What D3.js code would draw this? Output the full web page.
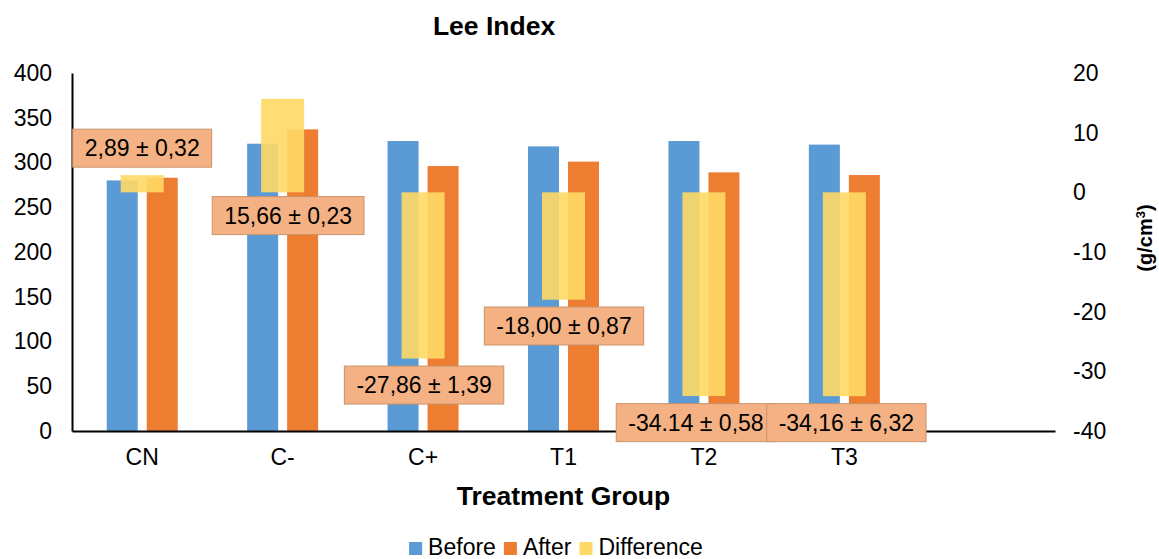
<!DOCTYPE html>
<html>
<head>
<meta charset="utf-8">
<script src="https://cdn.jsdelivr.net/npm/d3@7"></script>
<style>
  html, body { margin: 0; padding: 0; background: #fff; }
  svg { display: block; font-family: "Liberation Sans", Arial, sans-serif; }
</style>
</head>
<body>
<svg id="chart" width="1159" height="559"></svg>
<script>
// ---------- data ----------
const categories = ["CN", "C-", "C+", "T1", "T2", "T3"];
const beforeValues = [280, 321, 324, 318, 324, 320];
const afterValues = [283, 337, 296, 301, 289, 286];
const differenceValues = [2.89, 15.66, -27.86, -18.00, -34.14, -34.16];
const differenceLabels = ["2,89 ± 0,32", "15,66 ± 0,23", "-27,86 ± 1,39", "-18,00 ± 0,87", "-34.14 ± 0,58", "-34,16 ± 6,32"];
const leftTicks = [0, 50, 100, 150, 200, 250, 300, 350, 400];
const rightTicks = [-40, -30, -20, -10, 0, 10, 20];
const seriesNames = ["Before", "After", "Difference"];

// ---------- layout (not data) ----------
const plot = { left: 72, right: 1055, top: 73, bottom: 431 };
const colors = { Before: "#5B9BD5", After: "#ED7D31", Difference: "#FFD966" };
// label box placement: horizontal shift (px) and vertical anchor on right axis
const labelLayout = [
  { dx: 0, at: 7.4 },
  { dx: 5.5, at: -3.9 },
  { dx: 1, at: -32.3 },
  { dx: 0.5, at: -22.4 },
  { dx: -8, at: -38.6 },
  { dx: 2, at: -38.6 }
];

const svg = d3.select("#chart");

const x = d3.scaleBand()
  .domain(categories.concat([""]))
  .range([plot.left, plot.right])
  .padding(0);

const yL = d3.scaleLinear().domain([0, 400]).range([plot.bottom, plot.top]);
const yR = d3.scaleLinear().domain([-40, 20]).range([plot.bottom, plot.top]);

const bw = x.bandwidth();
const barW = 31, gap = 9, diffW = 43;
const cx = c => x(c) + bw / 2;

// Before bars
svg.append("g").selectAll("rect")
  .data(categories)
  .join("rect")
  .attr("x", c => cx(c) - gap / 2 - barW)
  .attr("width", barW)
  .attr("y", (c, i) => yL(beforeValues[i]))
  .attr("height", (c, i) => yL(0) - yL(beforeValues[i]))
  .attr("fill", colors.Before);

// After bars
svg.append("g").selectAll("rect")
  .data(categories)
  .join("rect")
  .attr("x", c => cx(c) + gap / 2)
  .attr("width", barW)
  .attr("y", (c, i) => yL(afterValues[i]))
  .attr("height", (c, i) => yL(0) - yL(afterValues[i]))
  .attr("fill", colors.After);

// Difference bars (right axis)
svg.append("g").selectAll("rect")
  .data(categories)
  .join("rect")
  .attr("x", c => cx(c) - diffW / 2)
  .attr("width", diffW)
  .attr("y", (c, i) => Math.min(yR(differenceValues[i]), yR(0)))
  .attr("height", (c, i) => Math.abs(yR(differenceValues[i]) - yR(0)))
  .attr("fill", colors.Difference)
  .attr("fill-opacity", 0.9);

// Axes
const axL = svg.append("g")
  .attr("transform", `translate(${plot.left},0)`)
  .call(d3.axisLeft(yL).tickValues(leftTicks).tickFormat(d => String(d)).tickSize(0).tickSizeOuter(0).tickPadding(20));
axL.select(".domain").attr("stroke", "#000").attr("stroke-width", 2);
axL.selectAll("text").attr("font-size", 23).attr("fill", "#000")
  .attr("font-family", "Liberation Sans, Arial, sans-serif");

const axR = svg.append("g")
  .attr("transform", `translate(${plot.right},0)`)
  .call(d3.axisRight(yR).tickValues(rightTicks).tickFormat(d => String(d)).tickSize(0).tickSizeOuter(0).tickPadding(18));
axR.select(".domain").remove();
axR.selectAll("text").attr("font-size", 23).attr("fill", "#000")
  .attr("font-family", "Liberation Sans, Arial, sans-serif");

const axB = svg.append("g")
  .attr("transform", `translate(0,${plot.bottom})`)
  .call(d3.axisBottom(x).tickSize(0).tickSizeOuter(0).tickPadding(18));
axB.select(".domain").attr("stroke", "#000").attr("stroke-width", 2);
axB.selectAll("text").attr("font-size", 23).attr("fill", "#000")
  .attr("font-family", "Liberation Sans, Arial, sans-serif");

// Data labels
const lg = svg.append("g").selectAll("g")
  .data(categories)
  .join("g")
  .attr("transform", (c, i) => `translate(${cx(c) + labelLayout[i].dx},${yR(labelLayout[i].at)})`);
lg.each(function (c, i) {
  const g = d3.select(this);
  const rect = g.append("rect");
  const t = g.append("text")
    .attr("text-anchor", "middle")
    .attr("dy", "0.36em")
    .attr("font-size", 23)
    .attr("fill", "#000")
    .text(differenceLabels[i]);
  const w = t.node().getComputedTextLength() + 24;
  rect.attr("x", -w / 2).attr("y", -19).attr("width", w).attr("height", 38)
    .attr("fill", "#F4B183").attr("stroke", "#C9936B").attr("stroke-width", 1);
});

// Title
svg.append("text")
  .attr("x", 494).attr("y", 35)
  .attr("text-anchor", "middle")
  .attr("font-size", 26.5).attr("font-weight", "bold")
  .text("Lee Index");

// X axis title
svg.append("text")
  .attr("x", (plot.left + plot.right) / 2).attr("y", 505)
  .attr("text-anchor", "middle")
  .attr("font-size", 26.5).attr("font-weight", "bold")
  .text("Treatment Group");

// Right axis title
const rt = svg.append("text")
  .attr("transform", "translate(1152,238) rotate(-90)")
  .attr("text-anchor", "middle")
  .attr("font-size", 20).attr("font-weight", "bold");
rt.append("tspan").text("(g/cm");
rt.append("tspan").attr("font-size", 13).attr("baseline-shift", "super").text("3");
rt.append("tspan").text(")");

// Legend
const legend = svg.append("g");
let lx = 0;
seriesNames.forEach(name => {
  const item = legend.append("g").attr("transform", `translate(${lx},0)`);
  item.append("rect").attr("x", 0).attr("y", -13).attr("width", 13).attr("height", 13)
    .attr("fill", colors[name]);
  const t = item.append("text").attr("x", 19).attr("y", 0)
    .attr("font-size", 23).attr("fill", "#000").text(name);
  lx += 19 + t.node().getComputedTextLength() + 8;
});
const legendW = lx - 8;
legend.attr("transform", `translate(${556 - legendW / 2},555)`);
</script>
</body>
</html>
